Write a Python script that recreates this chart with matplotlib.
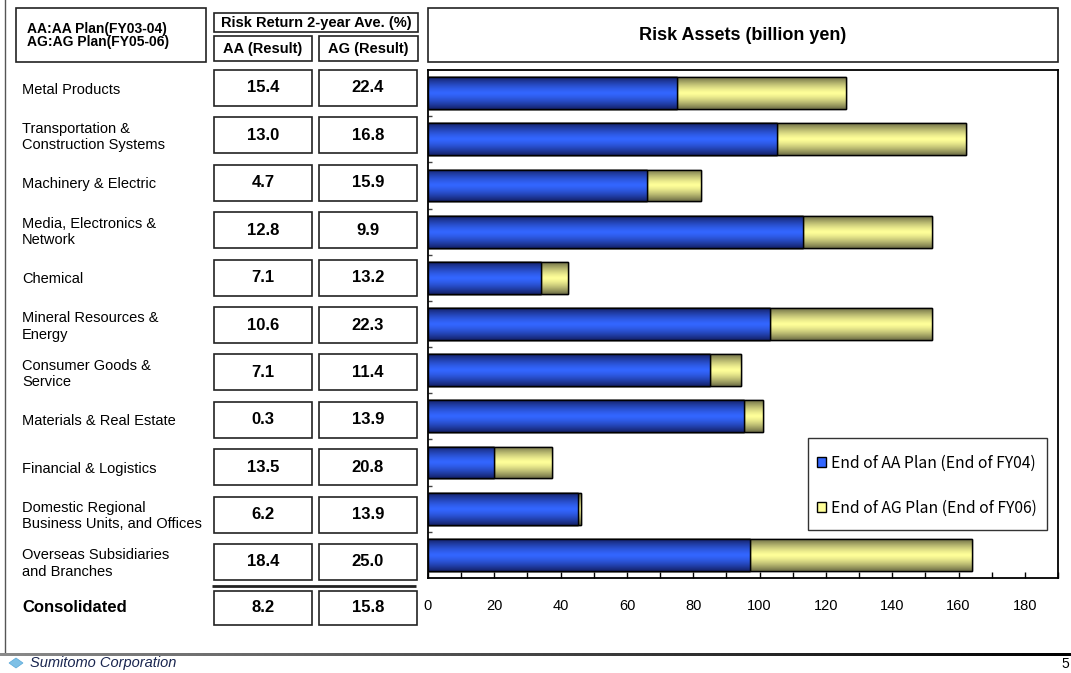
import numpy as np
import matplotlib
matplotlib.use("Agg")
import matplotlib.pyplot as plt
from matplotlib.patches import Rectangle, Polygon
from matplotlib.colors import to_rgb
from matplotlib.ticker import MultipleLocator

plt.rcParams['font.family'] = ['Liberation Sans', 'DejaVu Sans']

# ---------------- data ----------------
categories = [
    "Metal Products",
    "Transportation &\nConstruction Systems",
    "Machinery & Electric",
    "Media, Electronics &\nNetwork",
    "Chemical",
    "Mineral Resources &\nEnergy",
    "Consumer Goods &\nService",
    "Materials & Real Estate",
    "Financial & Logistics",
    "Domestic Regional\nBusiness Units, and Offices",
    "Overseas Subsidiaries\nand Branches",
]
aa_return = [15.4, 13.0, 4.7, 12.8, 7.1, 10.6, 7.1, 0.3, 13.5, 6.2, 18.4]
ag_return = [22.4, 16.8, 15.9, 9.9, 13.2, 22.3, 11.4, 13.9, 20.8, 13.9, 25.0]
consolidated_label = "Consolidated"
consolidated_aa = 8.2
consolidated_ag = 15.8

# risk assets (billion yen)
aa_assets = [75.1, 105.3, 66.0, 113.2, 34.2, 103.1, 85.1, 95.2, 20.0, 45.3, 97.0]
ag_assets = [126.2, 162.3, 82.2, 152.0, 42.1, 152.0, 94.4, 101.1, 37.3, 46.1, 164.0]
series_labels = ["End of AA Plan (End of FY04)", "End of AG Plan (End of FY06)"]
xticks = [0, 20, 40, 60, 80, 100, 120, 140, 160, 180]

header_note = ["AA:AA Plan(FY03-04)", "AG:AG Plan(FY05-06)"]
header_return = "Risk Return 2-year Ave. (%)"
header_aa = "AA (Result)"
header_ag = "AG (Result)"
chart_title = "Risk Assets (billion yen)"
company = "Sumitomo Corporation"
page_no = "5"

# ---------------- figure ----------------
W, H = 1071, 673
fig = plt.figure(figsize=(W / 100, H / 100), dpi=100)
fig.patch.set_facecolor('white')

ax = fig.add_axes([428 / W, 1 - 578 / H, 630 / W, 508 / H])
n = len(categories)
y = np.arange(n)
bh = 0.69

BLUE, BLUE_D = '#3366ff', '#14226a'
YEL, YEL_D = '#ffff99', '#6e6e46'

yb = ax.barh(y, ag_assets, height=bh, color=YEL, edgecolor='black', lw=1, zorder=2)
bb = ax.barh(y, aa_assets, height=bh, color=BLUE, edgecolor='black', lw=1, zorder=3)


def gradient(bright, dark, m=64):
    t = np.linspace(0, 1, m)
    g = np.clip(1 - np.abs((t - 0.5) / 0.5) ** 1.4, 0, 1)
    b = np.array(to_rgb(bright))
    d = np.array(to_rgb(dark))
    col = d[None, :] + (b - d)[None, :] * g[:, None]
    return col[:, None, :]


grad_y = gradient(YEL, YEL_D)
grad_b = gradient(BLUE, BLUE_D)
for patches, grad, z in ((yb.patches, grad_y, 2.1), (bb.patches, grad_b, 3.1)):
    for p in patches:
        x0, y0, w, h = p.get_x(), p.get_y(), p.get_width(), p.get_height()
        im = ax.imshow(grad, extent=(x0, x0 + w, y0 + h, y0), aspect='auto',
                       origin='upper', zorder=z, interpolation='bilinear')
        im.set_clip_path(p)

ax.barh(y, ag_assets, height=bh, fill=False, edgecolor='black', lw=1, zorder=2.2)
ax.barh(y, aa_assets, height=bh, fill=False, edgecolor='black', lw=1, zorder=3.2)

ax.set_xlim(0, 190)
ax.set_ylim(n - 0.5, -0.5)
ax.set_xticks(xticks)
ax.xaxis.set_minor_locator(MultipleLocator(10))
ax.tick_params(axis='x', which='both', direction='in', length=4, width=1,
               pad=15, labelsize=10.5)
ax.set_yticks(np.arange(n - 1) + 0.5)
ax.set_yticklabels([])
ax.tick_params(axis='y', direction='in', length=3, width=1, color='#444')
for s in ax.spines.values():
    s.set_linewidth(1.3)
    s.set_color('black')

leg = ax.legend([bb, yb], series_labels, loc='upper left',
                bbox_to_anchor=(817 / W, 1 - 455 / H), bbox_transform=fig.transFigure,
                frameon=False, prop={'family': ['Noto Sans CJK JP', 'DejaVu Sans'], 'size': 11.3},
                handlelength=0.6, handleheight=0.6, handletextpad=0.3,
                labelspacing=1.75, borderpad=0, borderaxespad=0)

# ---------------- overlay (table, frames, footer) ----------------
ov = fig.add_axes([0, 0, 1, 1], zorder=5)
ov.set_xlim(0, W)
ov.set_ylim(H, 0)
ov.axis('off')


def box(x0, y0, x1, y1, ec='#222', lw=1.2):
    ov.add_patch(Rectangle((x0, y0), x1 - x0, y1 - y0, fill=False, ec=ec, lw=lw))


# legend frame
box(808, 438, 1047, 530, ec='#333', lw=1.0)

# headers
box(16, 8, 206, 62)
ov.text(27, 29, header_note[0], fontsize=10, fontweight='bold', va='center', ha='left')
ov.text(27, 42, header_note[1], fontsize=10, fontweight='bold', va='center', ha='left')
box(214, 13, 418, 32)
ov.text(316, 22.5, header_return, fontsize=10.5, fontweight='bold', va='center', ha='center')
box(214, 36, 312, 61)
box(319, 36, 418, 61)
ov.text(263, 49, header_aa, fontsize=10.5, fontweight='bold', va='center', ha='center')
ov.text(368.5, 49, header_ag, fontsize=10.5, fontweight='bold', va='center', ha='center')
box(428, 8, 1058, 62)
ov.text(743, 36, chart_title, fontsize=13, fontweight='bold', va='center', ha='center')

# rows
for i, (lab, a, g) in enumerate(zip(categories, aa_return, ag_return)):
    cy = 88 + i * 47.4
    box(214, cy - 18, 312, cy + 18)
    box(319, cy - 18, 417, cy + 18)
    ov.text(263, cy, f"{a:.1f}", fontsize=12, fontweight='bold', va='center', ha='center')
    ov.text(368, cy, f"{g:.1f}", fontsize=12, fontweight='bold', va='center', ha='center')
    ov.text(22, cy + 1.5, lab, fontsize=10.5, va='center', ha='left', linespacing=1.2)

ov.plot([212, 416], [586, 586], color='#222', lw=2, solid_capstyle='butt')
cy = 608
box(214, cy - 17, 312, cy + 17)
box(319, cy - 17, 417, cy + 17)
ov.text(263, cy, f"{consolidated_aa:.1f}", fontsize=12, fontweight='bold', va='center', ha='center')
ov.text(368, cy, f"{consolidated_ag:.1f}", fontsize=12, fontweight='bold', va='center', ha='center')
ov.text(22, cy, consolidated_label, fontsize=12, fontweight='bold', va='center', ha='left')

# slide frame and footer
ov.plot([5, 5], [0, 653], color='#555', lw=1)
foot = fig.add_axes([0, 1 - 656 / H, 1, 3 / H], zorder=6)
foot.axis('off')
gl = np.linspace(0, 1, 256)
c0 = np.array(to_rgb('#8a8a8a'))
strip = (c0[None, :] * (1 - gl[:, None]))[None, :, :]
foot.imshow(strip, aspect='auto', extent=(0, 1, 0, 1))
foot.set_xlim(0, 1)
foot.set_ylim(0, 1)

ov.add_patch(Polygon([[9, 663], [16, 658], [23, 663], [16, 668]], closed=True,
                     fc='#7ec0e6', ec='#5aa8d8', lw=0.5))
ov.text(30, 663, company, fontsize=10.5, style='italic', color='#1a2650',
        va='center', ha='left')
ov.text(1069, 664, page_no, fontsize=10, va='center', ha='right')

fig.savefig('out.png', dpi=100, facecolor='white')
